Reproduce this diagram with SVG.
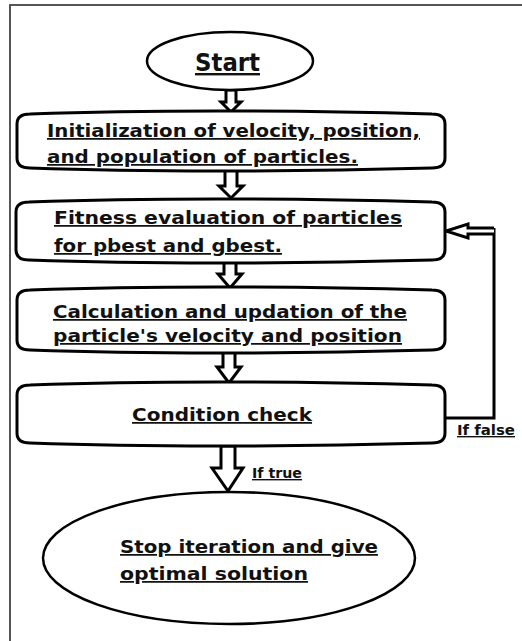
<svg xmlns="http://www.w3.org/2000/svg" width="522" height="641" viewBox="0 0 522 641">
<style>
.frame{fill:none;stroke:#555;stroke-width:2}
.box{fill:#fff;stroke:#000;stroke-width:3;stroke-linejoin:round}
.ell{fill:#fff;stroke:#000;stroke-width:2.5}
.arr{fill:#fff;stroke:#000;stroke-width:3;stroke-linejoin:miter}
.line{fill:none;stroke:#000;stroke-width:3}
text{font-family:"DejaVu Sans Condensed","DejaVu Sans","Liberation Sans",sans-serif;font-weight:bold;fill:#111;text-decoration:underline}
.t{font-size:17.5px}
.s{font-size:14px}
</style>
<rect width="522" height="641" fill="#fff"/>
<path class="frame" d="M10,641 V5 H522"/>
<g id="connectors">
  <path class="arr" d="M226,90 H236 V102 H241 L231,112 L221,102 H226 Z"/>
  <path class="arr" d="M225,170 H237 V186 H243 L231,198 L219,186 H225 Z"/>
  <path class="arr" d="M224,262 H236 V274 H242 L230,288 L218,274 H224 Z"/>
  <path class="arr" d="M223,352 H235 V367 H241 L229,383 L217,367 H223 Z"/>
  <path class="arr" d="M221,446 H235 V468 H243 L228,491 L212,468 H221 Z"/>
  <path class="line" d="M445,418 H494 V228"/>
  <path class="arr" d="M494,228 H468 V224 L446,231 L468,238 V234 H494"/>
  <text class="s" x="457" y="435" textLength="58" lengthAdjust="spacingAndGlyphs">If false</text>
  <text class="s" x="252" y="478" textLength="50" lengthAdjust="spacingAndGlyphs">If true</text>
</g>
<g id="start">
  <ellipse class="ell" cx="230" cy="61" rx="83" ry="29"/>
  <text x="195" y="71" style="font-size:24px" textLength="65" lengthAdjust="spacingAndGlyphs">Start</text>
</g>
<g id="init">
  <path class="box" d="M17,124 Q17,114 30,114 Q200,108 432,114 Q445,114 445,124 V158 Q445,168 432,168 Q200,174 30,168 Q17,168 17,158 Z"/>
  <text class="t" x="47" y="137" textLength="373" lengthAdjust="spacingAndGlyphs">Initialization of velocity, position,</text>
  <text class="t" x="47" y="163" textLength="311" lengthAdjust="spacingAndGlyphs">and population of particles.</text>
</g>
<g id="fitness">
  <path class="box" d="M16,212 Q16,202 29,202 Q200,196 432,202 Q445,202 445,212 V250 Q445,260 432,260 Q200,266 29,260 Q16,260 16,250 Z"/>
  <text class="t" x="54" y="224" textLength="348" lengthAdjust="spacingAndGlyphs">Fitness evaluation of particles</text>
  <text class="t" x="54" y="252" textLength="228" lengthAdjust="spacingAndGlyphs">for pbest and gbest.</text>
</g>
<g id="update">
  <path class="box" d="M17,300 Q17,290 30,290 Q200,284 432,290 Q445,290 445,300 V340 Q445,350 432,350 Q200,356 30,350 Q17,350 17,340 Z"/>
  <text class="t" x="53" y="318" textLength="354" lengthAdjust="spacingAndGlyphs">Calculation and updation of the</text>
  <text class="t" x="53" y="342" textLength="349" lengthAdjust="spacingAndGlyphs">particle's velocity and position</text>
</g>
<g id="check">
  <path class="box" d="M17,395 Q17,385 30,385 Q200,379 432,385 Q445,385 445,395 V433 Q445,443 432,443 Q200,449 30,443 Q17,443 17,433 Z"/>
  <text class="t" x="132" y="421" textLength="180" lengthAdjust="spacingAndGlyphs">Condition check</text>
</g>
<g id="stop">
  <ellipse class="ell" cx="229" cy="558" rx="186" ry="66"/>
  <text class="t" x="120" y="553" textLength="258" lengthAdjust="spacingAndGlyphs">Stop iteration and give</text>
  <text class="t" x="120" y="580" textLength="188" lengthAdjust="spacingAndGlyphs">optimal solution</text>
</g>
</svg>
